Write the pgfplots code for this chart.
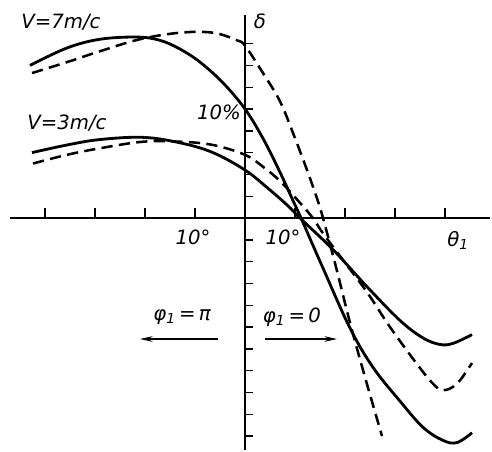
\documentclass[border=0pt]{standalone}
\usepackage{fontspec}
\setmainfont{DejaVu Sans}
\usepackage{pgfplots}
\pgfplotsset{compat=1.18}
\usetikzlibrary{arrows.meta}

\begin{document}
\begin{tikzpicture}[font=\fontsize{14}{16}\selectfont\itshape]
\begin{axis}[
    x=0.125cm, y=0.2725cm,
    xmin=-47, xmax=49, ymin=-21.3, ymax=18.6,
    axis lines=middle,
    axis line style={line width=1.2pt, -},
    xtick=\empty, ytick=\empty,
    clip=false,
    solidc/.style={black, no marks, smooth, tension=0.6, line width=2pt},
    dashc/.style={black, no marks, smooth, tension=0.6, line width=1.8pt,
      dash pattern=on 8pt off 4.5pt},
  ]
  % room round the axes, as in the reference
  \path (axis cs:-49,-21.3) (axis cs:49.4,20);

  % ticks: y ticks point right, x ticks point up
  \pgfplotsinvokeforeach{-20,-18,...,-2,2,4,...,16}{
    \draw[line width=1pt] (axis cs:0,#1) -- (axis cs:1.6,#1);
  }
  \pgfplotsinvokeforeach{-40,-30,-20,-10,10,20,30,40}{
    \draw[line width=1pt] (axis cs:#1,0) -- (axis cs:#1,0.95);
  }

  % V = 7 m/c, solid
  \addplot[solidc] coordinates {
    (-43,14.0) (-35.6,15.6) (-29,16.4) (-21.6,16.6) (-17,16.3)
    (-13,15.5) (-9,14.3) (-4.4,12.4) (0,10.0) (3.6,7.3) (7,4.2)
    (9.6,1.6) (11.2,0) (15.6,-4.6) (21,-10.1) (25.6,-13.7) (31,-16.8)
    (35.6,-19.2) (39.6,-20.4) (42.4,-20.6) (45.4,-19.7)};
  % V = 7 m/c, dashed
  \addplot[dashc] coordinates {
    (-42.6,13.3) (-35.6,14.3) (-29,15.3) (-21,16.4) (-13,17.0)
    (-6.4,17.0) (-1.6,16.3) (0,15.8) (3.6,13.3) (7,10.7) (9.6,7.8)
    (12.4,4.4) (14.4,1.8) (15.6,0) (18.2,-4.5) (21,-9.6) (24,-14.6)
    (27.4,-20.0)};
  % V = 3 m/c, solid
  \addplot[solidc] coordinates {
    (-42.6,6.0) (-35.6,6.7) (-29,7.2) (-20.4,7.4) (-13,6.9)
    (-6.4,6.0) (0,4.4) (4.4,2.8) (8.4,1.2) (11,0) (17.6,-2.9)
    (24.4,-6.3) (31,-9.4) (35.6,-11.0) (39,-11.6) (41.6,-11.5)
    (45.4,-10.7)};
  % V = 3 m/c, dashed
  \addplot[dashc] coordinates {
    (-42.4,5.0) (-35.6,5.8) (-29,6.4) (-20.4,7.0) (-13,7.0)
    (-6.4,6.7) (0,5.8) (3.6,4.7) (7,3.4) (10.4,1.7) (13.4,0.1)
    (15.6,-1.4) (20,-4.1) (24.4,-6.8) (29,-10.0) (34.4,-13.4)
    (37.6,-15.2) (39.6,-15.8) (42.4,-15.2) (45.4,-13.3)};

  % labels
  \node at (axis cs:-36.8,18.0) {V=7m/c};
  \node at (axis cs:-35.6,8.7) {V=3m/c};
  \node at (axis cs:-5.2,9.7) {10\%};
  \node at (axis cs:3,18.0) {δ};
  \node at (axis cs:-10.4,-1.75) {10°};
  \node at (axis cs:7.6,-1.75) {10°};
  \node at (axis cs:42.6,-2.1) {θ\textsubscript{1}};
  \node at (axis cs:-12.6,-9.1) {φ\textsubscript{1}\,=\,π};
  \node at (axis cs:9.4,-9.1) {φ\textsubscript{1}\,=\,0};
  \draw[line width=0.8pt, -{Stealth[length=9pt,width=4pt]}]
    (axis cs:-5.4,-11.1) -- (axis cs:-21,-11.1);
  \draw[line width=0.8pt, -{Stealth[length=9pt,width=4pt]}]
    (axis cs:4,-11.1) -- (axis cs:18.4,-11.1);
\end{axis}
\end{tikzpicture}
\end{document}
